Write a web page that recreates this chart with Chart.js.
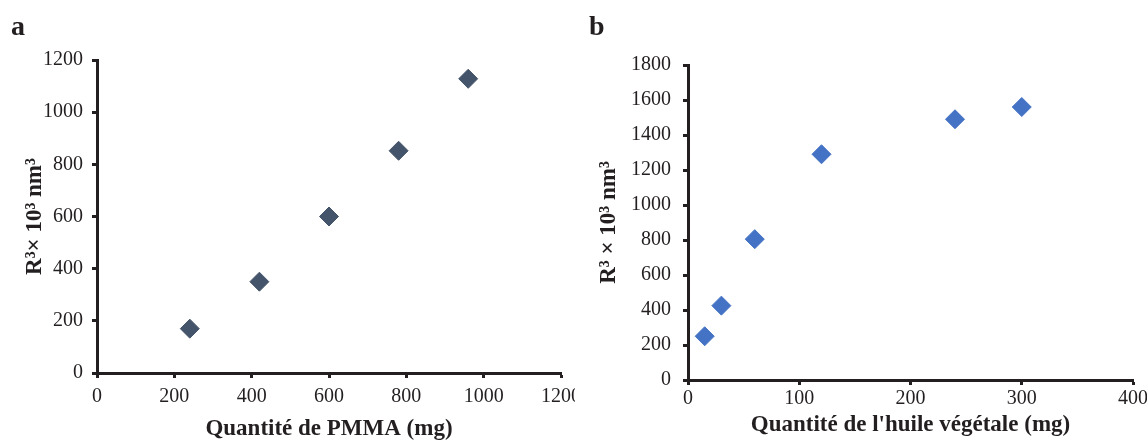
<!DOCTYPE html>
<html>
<head>
<meta charset="utf-8">
<script src="https://cdn.jsdelivr.net/npm/chart.js@4/dist/chart.umd.min.js"></script>
<style>
  html, body { margin: 0; padding: 0; background: #fff; }
  #wrap { position: relative; width: 1147px; height: 441px; overflow: hidden; }
  canvas { position: absolute; top: 0; }
  .tag { position: absolute; top: 12px; font: bold 28px 'Liberation Serif', serif; line-height: 1; color: #231f20; }
</style>
</head>
<body>
<div id="wrap">
  <canvas id="chartA" width="575" height="441" style="left:0"></canvas>
  <canvas id="chartB" width="572" height="441" style="left:575px"></canvas>
  <div class="tag" style="left:11px">a</div>
  <div class="tag" style="left:589px">b</div>
</div>
<script>
'use strict';

// ---- data ----
const pmmaMg = [240, 420, 600, 780, 960];
const pmmaR3 = [170, 350, 600, 852, 1128];

const huileMg = [15, 30, 60, 120, 240, 300];
const huileR3 = [250, 425, 805, 1290, 1490, 1560];

const pmmaXTicks = [0, 1200, 200];   // min, max, step
const pmmaYTicks = [0, 1200, 200];
const huileXTicks = [0, 400, 100];
const huileYTicks = [0, 1800, 200];

const INK = '#231f20';
Chart.defaults.font.family = "'Liberation Serif', serif";
Chart.defaults.color = INK;

function toPoints(xs, ys) {
  return xs.map((x, i) => ({ x: x, y: ys[i] }));
}

// axis with thick border and short outside ticks, no grid
function axis(range, title, size, tickPad) {
  return {
    type: 'linear',
    min: range[0],
    max: range[1],
    ticks: { stepSize: range[2], padding: tickPad, font: { size: 20 }, color: INK, callback: v => String(v) },
    grid: { drawOnChartArea: false, drawTicks: true, tickLength: 5, tickWidth: 3, color: INK },
    border: { display: true, width: 3, color: INK },
    title: { display: true, text: title, padding: 0, font: { size: 23, weight: 'bold', lineHeight: 1 }, color: INK },
    afterFit: (s) => {
      if (s.isHorizontal()) s.height = size; else s.width = size;
      s.paddingLeft = 0; s.paddingRight = 0; s.paddingTop = 0; s.paddingBottom = 0;
    }
  };
}

function makeChart(id, xs, ys, color, xRange, yRange, xTitle, yTitle, lay) {
  return new Chart(document.getElementById(id), {
    type: 'scatter',
    data: {
      datasets: [{
        data: toPoints(xs, ys),
        pointStyle: 'rectRot',
        pointRadius: 9.5,
        pointHoverRadius: 9.5,
        backgroundColor: color,
        borderColor: color,
        borderWidth: 1
      }]
    },
    options: {
      responsive: false,
      animation: false,
      devicePixelRatio: 1,
      layout: { padding: lay.padding },
      plugins: { legend: { display: false }, tooltip: { enabled: false } },
      scales: {
        x: axis(xRange, xTitle, lay.xSize, lay.xTickPad),
        y: axis(yRange, yTitle, lay.ySize, lay.yTickPad)
      }
    }
  });
}

makeChart('chartA', pmmaMg, pmmaR3, '#44546a', pmmaXTicks, pmmaYTicks,
  'Quantité de PMMA (mg)', 'R³× 10³ nm³',
  { padding: { left: 24, right: 14, top: 60, bottom: 0 }, xSize: 68, ySize: 73, xTickPad: 7, yTickPad: 9 });

makeChart('chartB', huileMg, huileR3, '#4472c4', huileXTicks, huileYTicks,
  "Quantité de l'huile végétale (mg)", 'R³ × 10³ nm³',
  { padding: { left: 23, right: 14, top: 65, bottom: 4 }, xSize: 57, ySize: 90, xTickPad: 2, yTickPad: 12 });
</script>
</body>
</html>
